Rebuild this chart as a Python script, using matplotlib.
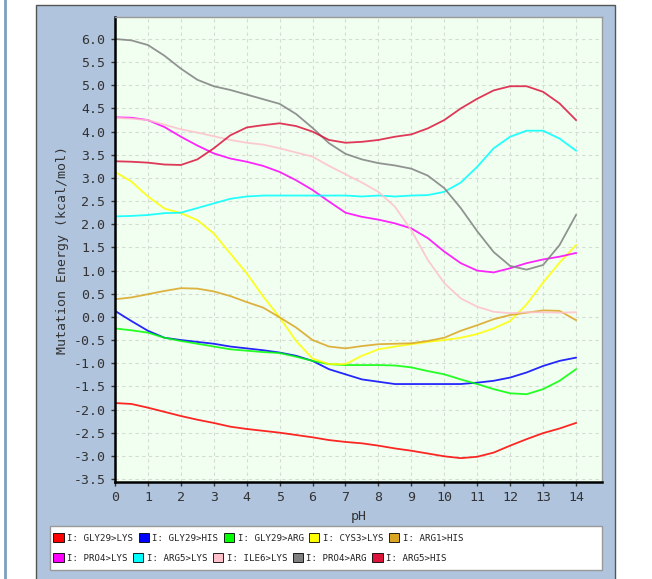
import numpy as np
import matplotlib
matplotlib.use("Agg")
import matplotlib.pyplot as plt
from matplotlib.patches import Rectangle, Patch
from matplotlib.ticker import FormatStrFormatter

ph = np.arange(0, 14.5, 0.5)

gly29_lys = [-1.86, -1.88, -1.96, -2.05, -2.14, -2.22, -2.29, -2.37, -2.42, -2.46,
             -2.50, -2.55, -2.60, -2.66, -2.70, -2.73, -2.78, -2.84, -2.89, -2.95,
             -3.01, -3.05, -3.02, -2.93, -2.78, -2.64, -2.51, -2.41, -2.29]
gly29_his = [0.13, -0.09, -0.30, -0.45, -0.50, -0.54, -0.58, -0.64, -0.68, -0.72,
             -0.77, -0.84, -0.95, -1.13, -1.24, -1.35, -1.40, -1.45, -1.45, -1.45,
             -1.45, -1.45, -1.42, -1.38, -1.31, -1.20, -1.06, -0.95, -0.88]
gly29_arg = [-0.25, -0.29, -0.34, -0.45, -0.52, -0.58, -0.64, -0.70, -0.73, -0.76,
             -0.78, -0.86, -0.95, -1.02, -1.04, -1.04, -1.04, -1.05, -1.09, -1.17,
             -1.24, -1.35, -1.45, -1.56, -1.65, -1.67, -1.56, -1.38, -1.13]
cys3_lys = [3.13, 2.92, 2.60, 2.34, 2.24, 2.09, 1.80, 1.37, 0.94, 0.44,
            -0.01, -0.52, -0.90, -1.02, -1.02, -0.84, -0.70, -0.64, -0.59, -0.54,
            -0.50, -0.45, -0.37, -0.25, -0.09, 0.27, 0.74, 1.17, 1.55]
arg1_his = [0.38, 0.42, 0.49, 0.56, 0.62, 0.61, 0.55, 0.45, 0.32, 0.20,
            -0.01, -0.23, -0.50, -0.64, -0.68, -0.63, -0.59, -0.58, -0.57, -0.52,
            -0.45, -0.30, -0.18, -0.05, 0.04, 0.09, 0.14, 0.13, -0.07]
pro4_lys = [4.31, 4.30, 4.25, 4.10, 3.89, 3.70, 3.53, 3.42, 3.35, 3.26,
            3.13, 2.95, 2.74, 2.49, 2.25, 2.16, 2.10, 2.02, 1.91, 1.70,
            1.41, 1.16, 1.00, 0.96, 1.05, 1.16, 1.24, 1.30, 1.38]
arg5_lys = [2.17, 2.18, 2.20, 2.24, 2.25, 2.35, 2.45, 2.55, 2.60, 2.62,
            2.62, 2.62, 2.62, 2.62, 2.62, 2.60, 2.62, 2.60, 2.62, 2.63,
            2.70, 2.90, 3.24, 3.64, 3.89, 4.02, 4.02, 3.85, 3.59]
ile6_lys = [4.30, 4.28, 4.25, 4.15, 4.05, 3.98, 3.90, 3.82, 3.76, 3.72,
            3.64, 3.55, 3.46, 3.26, 3.08, 2.90, 2.70, 2.38, 1.87, 1.23,
            0.73, 0.40, 0.22, 0.11, 0.08, 0.10, 0.10, 0.09, 0.10]
pro4_arg = [6.00, 5.97, 5.87, 5.64, 5.36, 5.12, 4.98, 4.90, 4.80, 4.70,
            4.60, 4.38, 4.08, 3.75, 3.52, 3.40, 3.32, 3.27, 3.20, 3.05,
            2.78, 2.35, 1.85, 1.40, 1.10, 1.02, 1.12, 1.55, 2.20]
arg5_his = [3.36, 3.35, 3.33, 3.29, 3.28, 3.40, 3.64, 3.92, 4.09, 4.14,
            4.18, 4.12, 4.00, 3.82, 3.76, 3.78, 3.82, 3.89, 3.94, 4.07,
            4.25, 4.50, 4.71, 4.89, 4.98, 4.98, 4.86, 4.61, 4.25]

labels = ["I: GLY29>LYS", "I: GLY29>HIS", "I: GLY29>ARG", "I: CYS3>LYS", "I: ARG1>HIS",
          "I: PRO4>LYS", "I: ARG5>LYS", "I: ILE6>LYS", "I: PRO4>ARG", "I: ARG5>HIS"]
colors = ["#ff0000", "#0000ff", "#00ff00", "#ffff00", "#daa520",
          "#ff00ff", "#00ffff", "#ffc0cb", "#808080", "#dc143c"]
series = [gly29_lys, gly29_his, gly29_arg, cys3_lys, arg1_his,
          pro4_lys, arg5_lys, ile6_lys, pro4_arg, arg5_his]

mono = "DejaVu Sans Mono"

fig = plt.figure(figsize=(6.52, 5.79), dpi=100)
fig.patch.set_facecolor("white")

# background panel
fig.patches.append(Rectangle((36 / 652, -0.01), (615 - 36) / 652, 1 - 5 / 579 + 0.01,
                             transform=fig.transFigure, facecolor="#b0c4de",
                             edgecolor="#555555", linewidth=1.0, zorder=-2))
fig.lines.append(plt.Line2D([4.5 / 652, 4.5 / 652], [0, 1], transform=fig.transFigure,
                            color="#7f9fbf", linewidth=2, zorder=-2))

ax = fig.add_axes([114.5 / 652, 1 - 482 / 579, (602 - 114.5) / 652, (482 - 17) / 579])
ax.set_zorder(1)
ax.set_facecolor("#f0fff0")

for ys, c in zip(series, colors):
    ax.plot(ph, ys, color=c, linewidth=1.3, alpha=0.85)

ax.set_xlim(-0.015, 14.79)
ax.set_ylim(-3.565, 6.475)
ax.set_xticks(range(0, 15))
ax.set_yticks(np.arange(-3.5, 6.01, 0.5))
ax.yaxis.set_major_formatter(FormatStrFormatter("%.1f"))
ax.grid(True, color="#d4dcd4", linestyle=(0, (3, 3)), linewidth=0.8)
ax.set_axisbelow(True)

for side in ["top", "right"]:
    ax.spines[side].set_color("#999999")
    ax.spines[side].set_linewidth(1.0)
for side in ["left", "bottom"]:
    ax.spines[side].set_color("black")
    ax.spines[side].set_linewidth(1.8)

ax.tick_params(direction="out", length=3, width=1, colors="#333333", labelsize=9.5)
for lbl in ax.get_xticklabels() + ax.get_yticklabels():
    lbl.set_family(mono)
    lbl.set_color("#333333")

ax.set_xlabel("pH", family=mono, fontsize=9.5, color="#333333", labelpad=4)
ax.set_ylabel("Mutation Energy (kcal/mol)", family=mono, fontsize=9.5, color="#333333",
              labelpad=3)

# legend box
fig.patches.append(Rectangle((50 / 652, 1 - 570 / 579), (602 - 50) / 652, 44 / 579,
                             transform=fig.transFigure, facecolor="white",
                             edgecolor="#999999", linewidth=1.0, zorder=-1))

for row in range(2):
    handles = [Patch(facecolor=colors[i], edgecolor="black", linewidth=0.6)
               for i in range(row * 5, row * 5 + 5)]
    leg = fig.legend(handles, labels[row * 5:row * 5 + 5], ncol=5, frameon=False,
                     loc="center left",
                     bbox_to_anchor=(47 / 652, 1 - (538 + row * 20) / 579),
                     prop={"family": mono, "size": 6.6},
                     handlelength=1.1, handleheight=1.1, handletextpad=0.4,
                     columnspacing=0.6, borderpad=0.2)
    for t in leg.get_texts():
        t.set_color("#222222")
    leg.set_zorder(2)

fig.savefig("out.png", dpi=100)
